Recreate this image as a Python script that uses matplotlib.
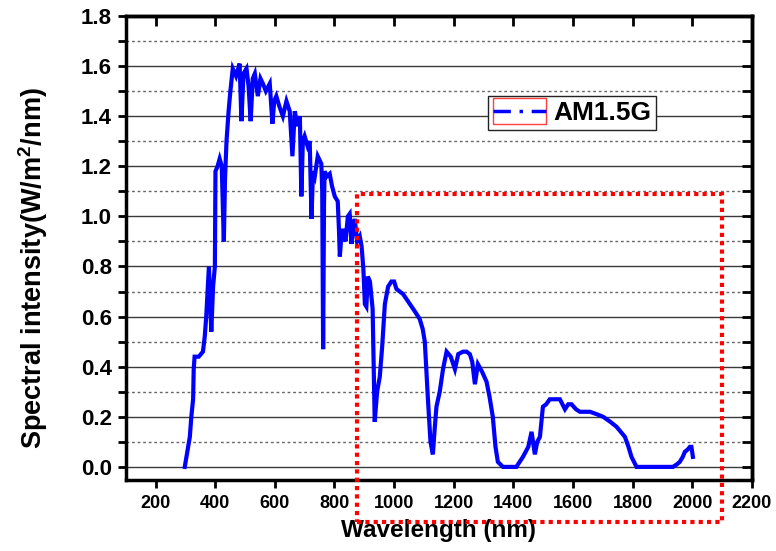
import matplotlib
matplotlib.use('Agg')
import matplotlib.pyplot as plt
from matplotlib.lines import Line2D
from matplotlib.patches import Rectangle
from matplotlib.legend_handler import HandlerLine2D
from matplotlib.ticker import MultipleLocator

plt.rcParams['font.family'] = ['Liberation Sans', 'DejaVu Sans']
plt.rcParams['font.weight'] = 'bold'
plt.rcParams['mathtext.fontset'] = 'custom'
plt.rcParams['mathtext.rm'] = 'Liberation Sans:bold'
plt.rcParams['mathtext.bf'] = 'Liberation Sans:bold'

# wavelength (nm) / spectral intensity (W/m2/nm)
wavelength = [298, 315, 320, 326, 328, 331, 345, 359, 365, 370,
              379, 387, 393, 399, 401, 408, 415, 422, 429, 433,
              438, 445, 451, 459, 470, 482, 488, 495, 505, 512,
              519, 526, 533, 543, 552, 560, 570, 583, 592, 598,
              605, 615, 627, 639, 650, 659, 667, 676, 684, 689,
              694, 700, 710, 717, 723, 728, 734, 744, 756, 759,
              762, 765, 767, 775, 784, 792, 801, 811, 815, 818,
              823, 828, 837, 845, 851, 857, 862, 868, 876, 885,
              891, 897, 902, 907, 912, 919, 928, 935, 943, 952,
              960, 969, 980, 991, 1000, 1008, 1030, 1053, 1070, 1086,
              1096, 1103, 1113, 1122, 1130, 1136, 1142, 1153, 1164, 1176,
              1190, 1204, 1215, 1231, 1243, 1254, 1262, 1271, 1281, 1295,
              1310, 1320, 1331, 1340, 1348, 1365, 1410, 1432, 1450, 1461,
              1472, 1480, 1489, 1499, 1510, 1522, 1540, 1556, 1573, 1584,
              1595, 1610, 1623, 1640, 1657, 1680, 1701, 1725, 1746, 1760,
              1774, 1786, 1796, 1813, 1860, 1935, 1948, 1958, 1968, 1975,
              1985, 1992, 1997, 2002]
intensity = [0.00, 0.12, 0.20, 0.27, 0.39, 0.44, 0.44, 0.46, 0.52, 0.60,
             0.80, 0.54, 0.72, 0.80, 1.18, 1.20, 1.23, 1.20, 0.90, 1.15,
             1.30, 1.42, 1.50, 1.59, 1.56, 1.61, 1.38, 1.57, 1.59, 1.52,
             1.38, 1.55, 1.57, 1.48, 1.55, 1.53, 1.50, 1.53, 1.37, 1.46,
             1.48, 1.44, 1.40, 1.46, 1.42, 1.24, 1.42, 1.36, 1.40, 1.08,
             1.30, 1.32, 1.28, 1.30, 0.99, 1.18, 1.16, 1.24, 1.21, 1.10,
             0.47, 1.05, 1.18, 1.16, 1.17, 1.12, 1.08, 1.06, 0.95, 0.84,
             0.92, 0.95, 0.90, 1.00, 1.01, 0.89, 0.95, 0.99, 0.90, 0.92,
             0.88, 0.79, 0.65, 0.64, 0.76, 0.74, 0.63, 0.18, 0.30, 0.36,
             0.48, 0.65, 0.72, 0.74, 0.74, 0.71, 0.69, 0.65, 0.62, 0.59,
             0.55, 0.50, 0.28, 0.10, 0.05, 0.15, 0.24, 0.30, 0.39, 0.46,
             0.44, 0.39, 0.45, 0.46, 0.46, 0.45, 0.42, 0.33, 0.41, 0.38,
             0.34, 0.28, 0.20, 0.08, 0.02, 0.00, 0.00, 0.04, 0.08, 0.14,
             0.05, 0.10, 0.12, 0.24, 0.25, 0.27, 0.27, 0.27, 0.23, 0.25,
             0.25, 0.23, 0.22, 0.22, 0.22, 0.21, 0.20, 0.18, 0.16, 0.14,
             0.12, 0.08, 0.04, 0.00, 0.00, 0.00, 0.01, 0.02, 0.04, 0.06,
             0.07, 0.08, 0.08, 0.04]


class BoxedLineHandler(HandlerLine2D):
    # legend handle with a thin red box round the line
    def create_artists(self, legend, orig_handle, xdescent, ydescent,
                       width, height, fontsize, trans):
        arts = super().create_artists(legend, orig_handle, xdescent, ydescent,
                                      width, height, fontsize, trans)
        box = Rectangle((-xdescent, -ydescent - 0.2 * height), width, height * 1.4,
                        fill=False, ec='#ff4040', lw=1, transform=trans)
        return [box] + list(arts)


fig = plt.figure(figsize=(7.76, 5.51), dpi=100)
ax = fig.add_axes([0.162, 0.129, 0.807, 0.842])

ax.plot(wavelength, intensity, color='#0000ff', lw=3, solid_joinstyle='miter')

ax.set_xlim(100, 2200)
ax.set_ylim(-0.052, 1.8)
ax.yaxis.set_minor_locator(MultipleLocator(0.1))
ax.set_xticks(range(200, 2201, 200))
ax.set_yticks([0.2 * i for i in range(10)])
ax.set_yticklabels(['%.1f' % (0.2 * i) for i in range(10)])

# grid: solid at major, dotted at minor
for i in range(10):
    ax.axhline(0.2 * i, color='#3a3a3a', lw=1, zorder=0)
for i in range(9):
    ax.axhline(0.2 * i + 0.1, color='#666666', lw=1, ls=(0, (2, 2)), zorder=0)

for s in ax.spines.values():
    s.set_linewidth(2.5)
ax.tick_params(axis='x', which='major', direction='out', length=6, width=2,
               labelsize=13, pad=5)
ax.tick_params(axis='y', which='both', direction='out', length=6, width=2,
               labelsize=16, pad=4)
ax.tick_params(axis='y', which='minor', length=6)
# inward ticks on top/right
sec_x = ax.secondary_xaxis('top')
sec_x.set_xticks(range(200, 2201, 200))
sec_x.tick_params(direction='in', length=7, width=2, labeltop=False)
sec_x.spines['top'].set_linewidth(2.5)
sec_y = ax.secondary_yaxis('right')
sec_y.yaxis.set_major_locator(MultipleLocator(0.2))
sec_y.yaxis.set_minor_locator(MultipleLocator(0.1))
sec_y.tick_params(which='both', direction='in', length=7, width=2, labelright=False)
sec_y.spines['right'].set_linewidth(2.5)

for lab in ax.get_xticklabels() + ax.get_yticklabels():
    lab.set_fontweight('bold')

ax.set_xlabel('Wavelength (nm)', fontsize=17.5, fontweight='bold', labelpad=5)
fig.text(33 / 776, 1 - 268 / 551, r'Spectral intensity(W/m$^{\mathbf{2}}$/nm)',
         fontsize=19.5, fontweight='bold', rotation=90, ha='center', va='center')

# red dotted region
ax.add_patch(Rectangle((875, -0.22), 1225, 1.31, fill=False, ec='red', lw=3,
                       ls=(0, (1, 1)), clip_on=False, zorder=5))

proxy = Line2D([], [], color='#0000ff', lw=2.5, ls=(0, (5, 2.5, 1, 2.5)))
leg = ax.legend([proxy], ['AM1.5G'], loc='upper left', bbox_to_anchor=(0.578, 0.828),
                handler_map={Line2D: BoxedLineHandler()}, frameon=True, fancybox=False,
                edgecolor='#222222', framealpha=1, handlelength=2.0, handletextpad=0.27,
                borderpad=0.2, borderaxespad=0, prop={'weight': 'bold', 'size': 19})
leg.get_frame().set_linewidth(1)

fig.savefig('out.png', dpi=100)
